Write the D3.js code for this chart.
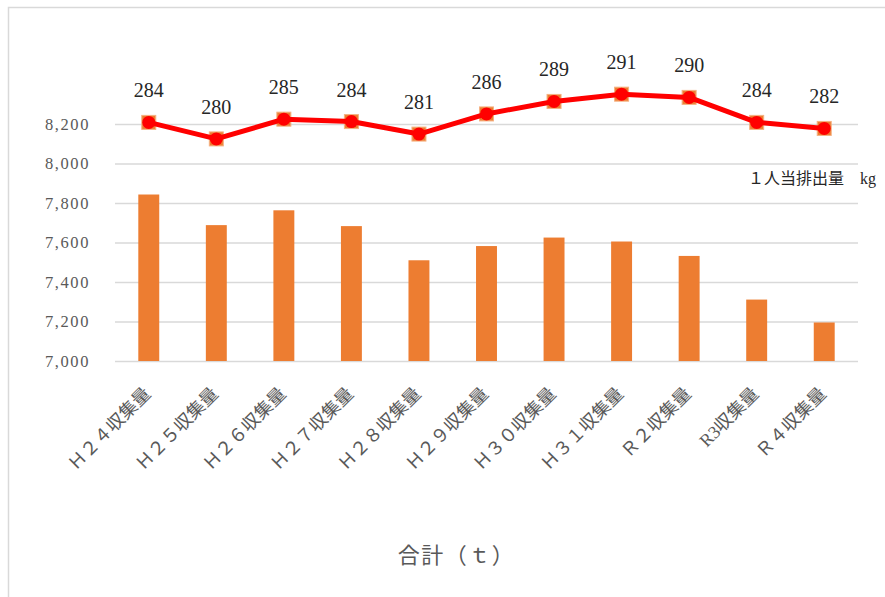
<!DOCTYPE html>
<html>
<head>
<meta charset="utf-8">
<script src="https://cdn.jsdelivr.net/npm/d3@7"></script>
<style>
    body { margin: 0; background: #fff; }
    svg  { display: block; }
</style>
</head>
<body>
<svg id="chart" width="885" height="597"></svg>
<script>

/* Data */
var categories    = ["Ｈ２４収集量", "Ｈ２５収集量", "Ｈ２６収集量", "Ｈ２７収集量", "Ｈ２８収集量",
                     "Ｈ２９収集量", "Ｈ３０収集量", "Ｈ３１収集量", "Ｒ２収集量", "R3収集量", "Ｒ４収集量"];
var collected_t   = [7843, 7688, 7763, 7683, 7510, 7582, 7625, 7605, 7532, 7311, 7195];
var per_person_kg = [283.9, 279.8, 284.7, 284.1, 281.0, 286.0, 289.1, 290.9, 290.1, 283.9, 282.4];
var y_ticks       = [7000, 7200, 7400, 7600, 7800, 8000, 8200];

var m_plot = { left: 115, right: 858, top: 84.5, bottom: 361 };

var serif_font = "'Liberation Serif', 'Noto Sans CJK JP', serif";
var cjk_font   = "'Liberation Serif', 'Noto Sans CJK JP', sans-serif";

var svg = d3.select("#chart");

/* outer chart frame (runs off the right and bottom edge) */
svg.append("rect")
    .attr("x", 8.5).attr("y", 7.5)
    .attr("width", 900).attr("height", 620)
    .attr("fill", "none")
    .attr("stroke", "#d9d9d9")
    .attr("stroke-width", 1.5);

/* scales */
var x = d3.scaleBand()
    .domain(categories)
    .range([m_plot.left, m_plot.right])
    .paddingInner(0.69)
    .paddingOuter(0.345);

var y = d3.scaleLinear()
    .domain([7000, 8400])
    .range([m_plot.bottom, m_plot.top]);

/* hidden secondary axis for the per-person line */
var y2 = d3.scaleLinear()
    .domain([224.7, 293.3])
    .range([y(7000), y(8400)]);

/* gridlines + y labels */
var y_axis = d3.axisLeft(y)
    .tickValues(y_ticks)
    .tickSize(-(m_plot.right - m_plot.left))
    .tickPadding(25)
    .tickFormat(d3.format(","));

var y_g = svg.append("g")
    .attr("transform", "translate(" + m_plot.left + ",0)")
    .call(y_axis);

y_g.select(".domain").remove();
y_g.selectAll(".tick line")
    .attr("stroke", "#d9d9d9")
    .attr("stroke-width", 1.6);
y_g.selectAll(".tick text")
    .attr("fill", "#595959")
    .style("font-family", serif_font)
    .style("font-size", "16.5px")
    .style("letter-spacing", "1.6px");

/* bars */
svg.append("g").selectAll("rect")
    .data(collected_t)
    .enter().append("rect")
    .attr("x", function(d, i) { return x(categories[i]); })
    .attr("width", x.bandwidth())
    .attr("y", function(d) { return y(d); })
    .attr("height", function(d) { return y(7000) - y(d); })
    .attr("fill", "#ed7d31");

/* x labels (rotated) */
var x_axis = d3.axisBottom(x).tickSize(0).tickPadding(0);
var x_g = svg.append("g")
    .attr("transform", "translate(0," + m_plot.bottom + ")")
    .call(x_axis);
x_g.select(".domain").remove();
x_g.selectAll(".tick text")
    .attr("text-anchor", "end")
    .attr("fill", "#595959")
    .attr("dy", "0")
    .attr("transform", "translate(3,34) rotate(-45)")
    .style("font-family", cjk_font)
    .style("font-size", "18px");

/* per-person line: square markers, line, round markers */
var line = d3.line()
    .x(function(d, i) { return x(categories[i]) + x.bandwidth() / 2; })
    .y(function(d) { return y2(d); });

var line_g = svg.append("g");

line_g.selectAll(".sq")
    .data(per_person_kg)
    .enter().append("rect")
    .attr("class", "sq")
    .attr("x", function(d, i) { return x(categories[i]) + x.bandwidth() / 2 - 7; })
    .attr("y", function(d) { return y2(d) - 7; })
    .attr("width", 14).attr("height", 14)
    .attr("fill", "#ed7d31")
    .attr("stroke", "#f4b183")
    .attr("stroke-width", 1);

line_g.append("path")
    .datum(per_person_kg)
    .attr("d", line)
    .attr("fill", "none")
    .attr("stroke", "#ff0000")
    .attr("stroke-width", 5)
    .attr("stroke-linejoin", "round");

line_g.selectAll(".dot")
    .data(per_person_kg)
    .enter().append("circle")
    .attr("class", "dot")
    .attr("cx", function(d, i) { return x(categories[i]) + x.bandwidth() / 2; })
    .attr("cy", function(d) { return y2(d); })
    .attr("r", 6.5)
    .attr("fill", "#ff0000");

/* value labels */
line_g.selectAll(".lbl")
    .data(per_person_kg)
    .enter().append("text")
    .attr("class", "lbl")
    .attr("x", function(d, i) { return x(categories[i]) + x.bandwidth() / 2; })
    .attr("y", function(d) { return y2(d) - 25; })
    .attr("text-anchor", "middle")
    .attr("fill", "#262626")
    .style("font-family", serif_font)
    .style("font-size", "20px")
    .text(function(d) { return d3.format(".0f")(d); });

/* series note */
svg.append("text")
    .attr("x", 748).attr("y", 184)
    .attr("fill", "#262626")
    .style("font-family", cjk_font)
    .style("font-size", "16px")
    .text("１人当排出量　kg");

/* axis title */
svg.append("text")
    .attr("x", (m_plot.left + m_plot.right) / 2 - 30)
    .attr("y", 563)
    .attr("text-anchor", "middle")
    .attr("fill", "#595959")
    .style("font-family", cjk_font)
    .style("font-size", "22px")
    .style("letter-spacing", "1.5px")
    .text("合計（ｔ）");

</script>
</body>
</html>
